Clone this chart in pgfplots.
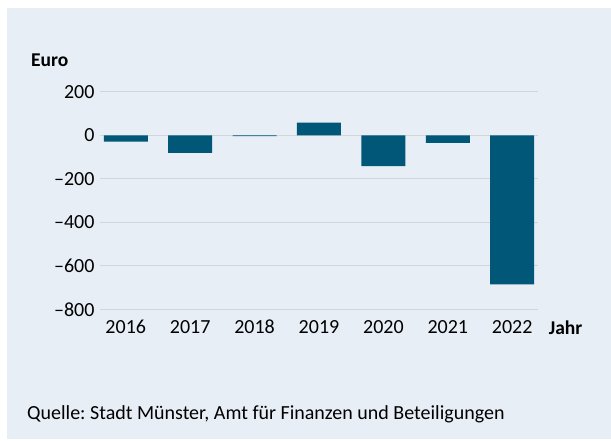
\documentclass[border=0pt]{standalone}
\usepackage{pgfplots}
\pgfplotsset{compat=1.18}
\usepackage{fontspec}
\setmainfont{Carlito}
\frenchspacing
\definecolor{bg}{RGB}{231,238,245}
\definecolor{barc}{RGB}{0,87,120}
\definecolor{gridc}{RGB}{210,214,219}
\begin{document}
\begin{tikzpicture}[x=1pt,y=1pt]
\useasboundingbox (0,0) rectangle (611,441);
\fill[bg] (7,2) rectangle (611,433);
\begin{axis}[
  at={(100pt,131.5pt)}, anchor=south west,
  scale only axis, width=438pt, height=217.5pt,
  xmin=-0.4, xmax=6.4, ymin=-800, ymax=200,
  axis x line*=bottom, axis y line*=left,
  y axis line style={draw=none},
  x axis line style={draw=gridc, line width=1.6pt, -},
  tick style={draw=none},
  ymajorgrids, grid style={draw=gridc, line width=1pt},
  ytick={-800,-600,-400,-200,0,200},
  yticklabels={--800,--600,--400,--200,0,200},
  xtick={0,1,2,3,4,5,6},
  xticklabels={2016,2017,2018,2019,2020,2021,2022},
  ticklabel style={font=\fontsize{20}{20}\selectfont, text=black},
  yticklabel style={xshift=-2pt},
  xticklabel style={yshift=-7pt},
]
\addplot[ybar, bar width=44pt, fill=barc, draw=none] coordinates {(0,-28) (1,-80) (2,-3) (3,59) (4,-141) (5,-34) (6,-685)};
\end{axis}
\node[anchor=west, inner sep=0, font=\bfseries\fontsize{19.5}{20}\selectfont] at (31,381) {Euro};
\node[anchor=west, inner sep=0, font=\bfseries\fontsize{19.5}{20}\selectfont] at (548.6,113) {Jahr};
\node[anchor=west, inner sep=0, font=\fontsize{20}{20}\selectfont] at (27,27) {Quelle: Stadt Münster, Amt für Finanzen und Beteiligungen};
\end{tikzpicture}
\end{document}
